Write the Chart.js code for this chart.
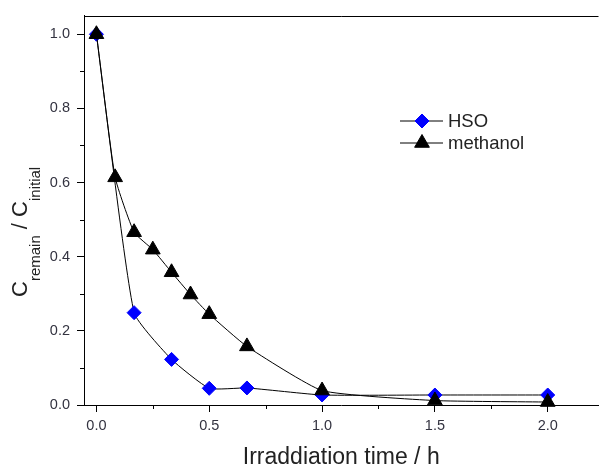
<!DOCTYPE html>
<html>
<head>
<meta charset="utf-8">
<script src="https://cdn.jsdelivr.net/npm/chart.js@4.4.1/dist/chart.umd.min.js"></script>
<style>
  html, body { margin: 0; padding: 0; background: #fff; }
  canvas { display: block; }
</style>
</head>
<body>
<canvas id="chart" width="608" height="469"></canvas>
<script>
// Irradiation time (h) and remaining concentration ratio
const hsoTime = [0, 0.167, 0.333, 0.5, 0.667, 1.0, 1.5, 2.0];
const hsoRatio = [1.0, 0.249, 0.123, 0.045, 0.046, 0.027, 0.027, 0.027];
const methanolTime = [0, 0.083, 0.167, 0.25, 0.333, 0.417, 0.5, 0.667, 1.0, 1.5, 2.0];
const methanolRatio = [1.0, 0.614, 0.466, 0.419, 0.358, 0.298, 0.245, 0.158, 0.039, 0.012, 0.008];

// Axis ticks
const xTicks = [0, 0.5, 1.0, 1.5, 2.0];
const xMinorTicks = [0.25, 0.75, 1.25, 1.75];
const yTicks = [0, 0.2, 0.4, 0.6, 0.8, 1.0];
const yMinorTicks = [0.1, 0.3, 0.5, 0.7, 0.9];

// Y axis title pieces: [text, isSubscript]
const yTitleParts = [['C', false], ['remain', true], [' / ', false], ['C', false], ['initial', true]];
const xTitle = 'Irraddiation time / h';

const FONT = "'Liberation Sans', Arial, sans-serif";
const TEXT_COLOR = '#333340';
Chart.defaults.font.family = FONT;

const toPoints = (xs, ys) => xs.map((x, i) => ({ x: x, y: ys[i] }));

// Draws the top frame line, the minor ticks, the y title with subscripts and the legend
const frameAndLabels = {
    id: 'frameAndLabels',
    afterDraw(chart) {
        const { ctx, chartArea } = chart;
        const xs = chart.scales.x;
        const ys = chart.scales.y;
        ctx.save();
        ctx.strokeStyle = '#000';
        ctx.lineWidth = 1;

        // top frame
        ctx.beginPath();
        ctx.moveTo(chartArea.left, Math.round(chartArea.top) + 0.5);
        ctx.lineTo(chartArea.right, Math.round(chartArea.top) + 0.5);
        ctx.stroke();

        // minor ticks, outward
        ctx.beginPath();
        xMinorTicks.forEach(v => {
            const px = Math.round(xs.getPixelForValue(v)) + 0.5;
            ctx.moveTo(px, chartArea.bottom);
            ctx.lineTo(px, chartArea.bottom + 4);
        });
        yMinorTicks.forEach(v => {
            const py = Math.round(ys.getPixelForValue(v)) + 0.5;
            ctx.moveTo(chartArea.left, py);
            ctx.lineTo(chartArea.left - 4, py);
        });
        ctx.stroke();

        // y title, rotated, with subscripts
        ctx.save();
        ctx.translate(27, 297);
        ctx.rotate(-Math.PI / 2);
        ctx.fillStyle = '#222';
        ctx.textBaseline = 'alphabetic';
        let pos = 0;
        yTitleParts.forEach(([txt, sub]) => {
            ctx.font = (sub ? '15px ' : '22px ') + FONT;
            ctx.fillText(txt, pos, sub ? 13 : 0);
            pos += ctx.measureText(txt).width;
        });
        ctx.restore();

        // legend inside the plot
        const legendX = 400, legendY = 121, rowGap = 22;
        chart.data.datasets.forEach((ds, i) => {
            const y = legendY + i * rowGap;
            ctx.strokeStyle = ds.borderColor;
            ctx.lineWidth = ds.borderWidth;
            ctx.beginPath();
            ctx.moveTo(legendX, y);
            ctx.lineTo(legendX + 43, y);
            ctx.stroke();
            ctx.fillStyle = ds.pointBackgroundColor;
            ctx.strokeStyle = ds.pointBorderColor;
            ctx.lineWidth = ds.pointBorderWidth;
            Chart.helpers.drawPoint(ctx, { pointStyle: ds.pointStyle, radius: ds.pointRadius, borderWidth: ds.pointBorderWidth }, legendX + 22, y);
            ctx.fillStyle = '#222';
            ctx.font = '18.5px ' + FONT;
            ctx.textBaseline = 'middle';
            ctx.fillText(ds.label, legendX + 48, y + 1);
        });
        ctx.restore();
    }
};

new Chart(document.getElementById('chart').getContext('2d'), {
    type: 'line',
    data: {
        datasets: [{
            label: 'HSO',
            data: toPoints(hsoTime, hsoRatio),
            borderColor: '#000',
            borderWidth: 1,
            pointStyle: 'rectRot',
            pointRadius: 7,
            pointBackgroundColor: '#0000ff',
            pointBorderColor: '#0000ff',
            pointBorderWidth: 1,
            tension: 0.15,
            order: 1,
            clip: false
        }, {
            label: 'methanol',
            data: toPoints(methanolTime, methanolRatio),
            borderColor: '#000',
            borderWidth: 1,
            pointStyle: 'triangle',
            pointRadius: 8.5,
            pointBackgroundColor: '#000',
            pointBorderColor: '#000',
            pointBorderWidth: 1,
            tension: 0.15,
            order: 0,
            clip: false
        }]
    },
    options: {
        responsive: false,
        animation: false,
        layout: { padding: { top: 14, left: 0, right: 0, bottom: 0 } },
        plugins: {
            legend: { display: false },
            tooltip: { enabled: false }
        },
        scales: {
            x: {
                type: 'linear',
                min: -0.055,
                max: 2.225,
                afterBuildTicks: s => { s.ticks = xTicks.map(v => ({ value: v })); },
                afterFit: s => { s.height = 64; },
                ticks: {
                    padding: 5,
                    color: TEXT_COLOR,
                    font: { size: 14.5 },
                    callback: v => Number(v).toFixed(1)
                },
                grid: { drawOnChartArea: false, tickLength: 7, color: '#000', tickColor: '#000' },
                border: { color: '#000', width: 1 },
                title: {
                    display: true,
                    text: xTitle,
                    color: '#222',
                    font: { size: 23 },
                    padding: { top: 0, bottom: -2 }
                }
            },
            y: {
                type: 'linear',
                min: 0,
                max: 1.05,
                afterBuildTicks: s => { s.ticks = yTicks.map(v => ({ value: v })); },
                afterFit: s => { s.width = 84; },
                ticks: {
                    padding: 7,
                    color: TEXT_COLOR,
                    font: { size: 14.5 },
                    callback: v => Number(v).toFixed(1)
                },
                grid: { drawOnChartArea: false, tickLength: 7, color: '#000', tickColor: '#000' },
                border: { color: '#000', width: 1 }
            }
        }
    },
    plugins: [frameAndLabels]
});
</script>
</body>
</html>
